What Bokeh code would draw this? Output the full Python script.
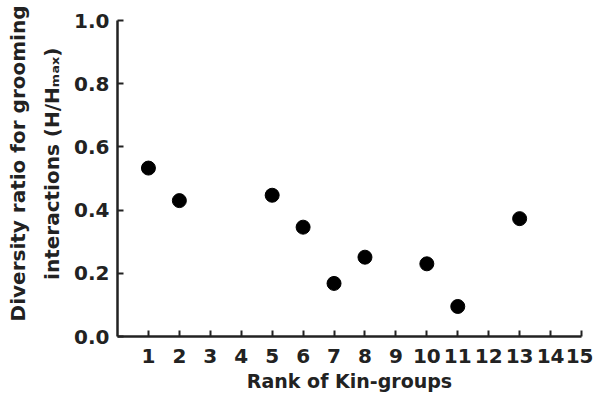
from bokeh.plotting import figure
from bokeh.models import Range1d, FixedTicker, Title, CustomJSTickFormatter
from bokeh.embed import file_html
from bokeh.resources import INLINE

ranks = [1, 2, 5, 6, 7, 8, 10, 11, 13]
diversity = [0.533, 0.430, 0.447, 0.346, 0.168, 0.251, 0.230, 0.095, 0.373]
x_ticks = list(range(1, 16))
y_ticks = [0.0, 0.2, 0.4, 0.6, 0.8, 1.0]
x_title = "Rank of Kin-groups"
y_title_1 = "Diversity ratio for grooming"
y_title_2 = "interactions (H/Hₘₐₓ)"

p = figure(frame_width=464, frame_height=316, output_backend="svg", toolbar_location=None,
           x_range=Range1d(0, 15), y_range=Range1d(0, 1.0),
           min_border_left=117, min_border_top=20, min_border_bottom=58, min_border_right=12)
p.outline_line_color = None
p.xgrid.visible = False
p.ygrid.visible = False
p.background_fill_color = "white"

p.scatter(ranks, diversity, size=14, color="black")

font = "DejaVu Sans"
ink = "#222222"
for ax in (p.xaxis[0], p.yaxis[0]):
    ax.axis_line_width = 2.5
    ax.axis_line_color = ink
    ax.major_tick_line_width = 2
    ax.major_tick_line_color = ink
    ax.major_tick_in = 6
    ax.major_tick_out = 0
    ax.minor_tick_line_color = None
    ax.major_label_text_font = font
    ax.major_label_text_font_style = "bold"
    ax.major_label_text_font_size = "20px"
    ax.major_label_text_color = ink
    ax.axis_label_text_font = font
    ax.axis_label_text_font_style = "bold"
    ax.axis_label_text_font_size = "19px"
    ax.axis_label_text_color = ink

p.xaxis.ticker = FixedTicker(ticks=x_ticks)
p.yaxis.ticker = FixedTicker(ticks=y_ticks)
p.yaxis.formatter = CustomJSTickFormatter(code="return tick.toFixed(1);")
p.xaxis.major_label_standoff = 12
p.yaxis.major_label_standoff = 8
p.xaxis.axis_label = x_title
p.xaxis.axis_label_standoff = 4

for txt, off, so in ((y_title_2, 27, 15), (y_title_1, -15, 2)):
    p.add_layout(Title(text=txt, align="right", offset=off, standoff=so,
                       text_font=font, text_font_style="bold", text_font_size="20px",
                       text_color=ink), "left")

open("out.html", "w").write(file_html(p, INLINE))
